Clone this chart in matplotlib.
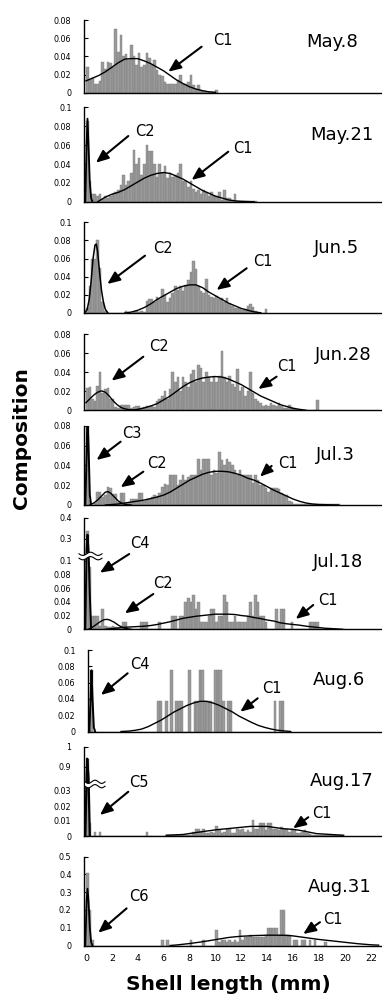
import numpy as np
import matplotlib
matplotlib.use("Agg")
import matplotlib.pyplot as plt
from matplotlib.patches import Polygon
from matplotlib.lines import Line2D

plt.rcParams["font.family"] = ["DejaVu Sans"]

FIG_W, FIG_H = 382, 1000
BIN = 0.2            # size-class width, mm
PX_PER_MM = 12.95

X_TICKS = [0, 2, 4, 6, 8, 10, 12, 14, 16, 18, 20, 22]

# ---------------- May.8 ----------------
may8_bars = [0.028, 0.014, 0.016, 0.010, 0.010, 0.013, 0.034, 0.026, 0.034, 0.033,
             0.028, 0.070, 0.045, 0.064, 0.040, 0.043, 0.036, 0.052, 0.040, 0.030,
             0.044, 0.028, 0.030, 0.044, 0.038, 0.030, 0.036, 0.025, 0.020, 0.018,
             0.012, 0.010, 0.010, 0.010, 0.010, 0.014, 0.019, 0.010, 0.010, 0.012,
             0.019, 0.008, 0.004, 0.008, 0.003, 0.002, 0.001, 0.001, 0.001, 0.001,
             0.003]
may8_c1_x = [0, 0.5, 1, 1.5, 2, 2.5, 3, 3.5, 4, 4.5, 5, 5.5, 6, 6.5, 7, 7.5, 8, 8.5, 9, 9.5, 10]
may8_c1_y = [0.013, 0.016, 0.019, 0.023, 0.028, 0.033, 0.037, 0.0375, 0.0375, 0.035, 0.032,
             0.028, 0.024, 0.019, 0.014, 0.010, 0.0065, 0.004, 0.0022, 0.001, 0.0004]

# ---------------- May.21 ----------------
may21_bars = [0.085, 0.022, 0.008, 0.008, 0.006, 0.008, 0.003, 0.006, 0.004, 0.006,
              0.008, 0.010, 0.012, 0.018, 0.028, 0.018, 0.022, 0.030, 0.055, 0.040,
              0.046, 0.028, 0.040, 0.060, 0.054, 0.054, 0.040, 0.026, 0.040, 0.030,
              0.038, 0.025, 0.030, 0.026, 0.028, 0.030, 0.040, 0.022, 0.022, 0.016,
              0.022, 0.014, 0.010, 0.012, 0.008, 0.012, 0.010, 0.006, 0.010, 0.006,
              0.006, 0.010, 0.002, 0.012, 0.004, 0.004, 0.002, 0.008, 0.001, 0.001,
              0.001, 0.001, 0.001, 0.001, 0.001, 0.001]
may21_c2_x = [-0.05, 0.05, 0.12, 0.2, 0.3, 0.4, 0.5]
may21_c2_y = [0.0, 0.060, 0.088, 0.060, 0.020, 0.004, 0.0]
may21_c1_x = [0.9, 1.5, 2, 2.5, 3, 3.5, 4, 4.5, 5, 5.5, 6, 6.5, 7, 7.5, 8, 8.5, 9, 9.5,
              10, 10.5, 11, 11.5, 12, 13]
may21_c1_y = [0.0, 0.005, 0.008, 0.010, 0.013, 0.017, 0.021, 0.025, 0.028, 0.030, 0.031,
              0.030, 0.027, 0.024, 0.020, 0.016, 0.012, 0.009, 0.006, 0.004, 0.002,
              0.001, 0.0005, 0.0]

# ---------------- Jun.5 ----------------
jun5_bars = [0.005, 0.030, 0.060, 0.060, 0.080, 0.050, 0.012, 0.002, 0, 0,
             0, 0, 0, 0, 0, 0.002, 0.001, 0.0, 0.001, 0.002,
             0.001, 0.002, 0.001, 0.013, 0.015, 0.015, 0.012, 0.018, 0.015, 0.026,
             0.020, 0.012, 0.016, 0.022, 0.030, 0.025, 0.030, 0.024, 0.031, 0.036,
             0.045, 0.057, 0.048, 0.030, 0.024, 0.022, 0.038, 0.020, 0.018, 0.016,
             0.019, 0.015, 0.016, 0.012, 0.017, 0.010, 0.008, 0.006, 0.005, 0.004,
             0.003, 0.004, 0.008, 0.010, 0.007, 0.002, 0, 0, 0, 0.004]
jun5_c2_x = [-0.1, 0.1, 0.25, 0.4, 0.55, 0.7, 0.8, 0.9, 1.05, 1.2, 1.35, 1.5, 1.7]
jun5_c2_y = [0.0, 0.004, 0.015, 0.035, 0.060, 0.075, 0.076, 0.068, 0.045, 0.025, 0.012, 0.004, 0.0]
jun5_c1_x = [3.0, 3.5, 4, 4.5, 5, 5.5, 6, 6.5, 7, 7.5, 8, 8.5, 9, 9.5, 10, 10.5, 11, 11.5,
             12, 12.5, 13, 13.5]
jun5_c1_y = [0.0, 0.001, 0.003, 0.006, 0.010, 0.015, 0.019, 0.023, 0.027, 0.0295, 0.031,
             0.031, 0.028, 0.023, 0.019, 0.015, 0.011, 0.008, 0.005, 0.003, 0.0012, 0.0003]

# ---------------- Jun.28 ----------------
jun28_bars = [0.024, 0.025, 0.012, 0.010, 0.026, 0.040, 0.018, 0.022, 0.024, 0.012,
              0.012, 0.003, 0.002, 0.006, 0.006, 0.006, 0.006, 0.002, 0.003, 0.005,
              0.005, 0.002, 0.003, 0.005, 0.005, 0.005, 0.003, 0.010, 0.012, 0.015,
              0.020, 0.012, 0.022, 0.040, 0.030, 0.035, 0.020, 0.035, 0.030, 0.025,
              0.038, 0.042, 0.030, 0.048, 0.045, 0.030, 0.040, 0.035, 0.030, 0.036,
              0.030, 0.036, 0.062, 0.035, 0.030, 0.036, 0.028, 0.025, 0.043, 0.020,
              0.025, 0.015, 0.020, 0.040, 0.018, 0.012, 0.010, 0.008, 0.005, 0.006,
              0.004, 0.008, 0.006, 0.005, 0.008, 0.005, 0.002, 0.002, 0.006, 0.003,
              0.002, 0.001, 0, 0, 0, 0, 0, 0, 0, 0.011]
jun28_c2_x = [0, 0.3, 0.6, 0.9, 1.2, 1.5, 1.8, 2.1, 2.4, 2.7, 3.0, 3.5, 4.0]
jun28_c2_y = [0.008, 0.012, 0.016, 0.019, 0.0205, 0.019, 0.015, 0.010, 0.006, 0.003,
              0.0015, 0.0003, 0.0]
jun28_c1_x = [3.5, 4, 4.5, 5, 5.5, 6, 6.5, 7, 7.5, 8, 8.5, 9, 9.5, 10, 10.5, 11, 11.5,
              12, 12.5, 13, 13.5, 14, 14.5, 15, 15.5, 16, 16.5, 17]
jun28_c1_y = [0.0, 0.001, 0.0025, 0.0045, 0.007, 0.011, 0.015, 0.020, 0.025, 0.029, 0.032,
              0.034, 0.035, 0.0355, 0.035, 0.033, 0.030, 0.027, 0.023, 0.019, 0.015, 0.012,
              0.009, 0.006, 0.004, 0.002, 0.001, 0.0]

# ---------------- Jul.3 ----------------
jul3_bars = [0.090, 0.004, 0.0, 0.002, 0.013, 0.013, 0.008, 0.010, 0.018, 0.017,
             0.011, 0.011, 0.003, 0.012, 0.012, 0.002, 0.002, 0.006, 0.006, 0.006,
             0.012, 0.012, 0.004, 0.006, 0.006, 0.008, 0.010, 0.009, 0.012, 0.018,
             0.021, 0.020, 0.030, 0.030, 0.030, 0.020, 0.025, 0.030, 0.025, 0.028,
             0.030, 0.030, 0.030, 0.046, 0.035, 0.046, 0.046, 0.046, 0.030, 0.035,
             0.032, 0.053, 0.045, 0.040, 0.046, 0.043, 0.040, 0.035, 0.030, 0.035,
             0.030, 0.030, 0.030, 0.030, 0.022, 0.030, 0.025, 0.020, 0.020, 0.017,
             0.013, 0.017, 0.017, 0.017, 0.016, 0.012, 0.010, 0.010, 0.004, 0.003,
             0.001, 0.001, 0.001, 0.001, 0.001, 0.001, 0.001, 0.001, 0.001, 0.001,
             0.001, 0.001, 0.001, 0.001, 0.001, 0.001, 0.001, 0.001]
jul3_c3_x = [-0.05, 0.05, 0.12, 0.2, 0.3, 0.4]
jul3_c3_y = [0.0, 0.050, 0.090, 0.060, 0.010, 0.0]
jul3_c2_x = [0.3, 0.6, 0.9, 1.2, 1.5, 1.7, 1.9, 2.2, 2.5, 2.8, 3.1, 3.5]
jul3_c2_y = [0.0, 0.002, 0.005, 0.009, 0.013, 0.0135, 0.012, 0.008, 0.004, 0.0015, 0.0003, 0.0]
jul3_c1_x = [1.5, 2, 2.5, 3, 3.5, 4, 4.5, 5, 5.5, 6, 6.5, 7, 7.5, 8, 8.5, 9, 9.5, 10, 10.5,
             11, 11.5, 12, 12.5, 13, 13.5, 14, 14.5, 15, 15.5, 16, 16.5, 17, 17.5, 18, 19.5]
jul3_c1_y = [0.0, 0.0005, 0.001, 0.002, 0.003, 0.004, 0.005, 0.0065, 0.008, 0.010, 0.013,
             0.017, 0.021, 0.025, 0.028, 0.031, 0.033, 0.034, 0.034, 0.0335, 0.032, 0.030,
             0.027, 0.025, 0.022, 0.0185, 0.015, 0.012, 0.009, 0.006, 0.0037, 0.002, 0.001,
             0.0005, 0.0]

# ---------------- Jul.18 ----------------
jul18_bars = [0.335, 0.090, 0.020, 0.020, 0.020, 0.005, 0.030, 0.005, 0.004, 0.004,
              0.005, 0.003, 0.002, 0.0, 0.010, 0.010, 0.001, 0.001, 0.001, 0.001,
              0.001, 0.010, 0.010, 0.010, 0.001, 0.001, 0.001, 0.001, 0.010, 0.001,
              0.001, 0.001, 0.0, 0.020, 0.020, 0.001, 0.020, 0.020, 0.040, 0.045,
              0.040, 0.050, 0.030, 0.040, 0.010, 0.010, 0.010, 0.020, 0.030, 0.030,
              0.010, 0.020, 0.020, 0.050, 0.040, 0.010, 0.010, 0.020, 0.010, 0.010,
              0.010, 0.010, 0.020, 0.040, 0.020, 0.050, 0.040, 0.020, 0.020, 0.010,
              0.0, 0.0, 0.001, 0.030, 0.010, 0.030, 0.030, 0.0, 0.0, 0.010,
              0.001, 0.001, 0.001, 0.001, 0.001, 0.001, 0.010, 0.010, 0.010, 0.010,
              0.001, 0.001, 0.001, 0.001, 0.001, 0.001, 0.001, 0.001, 0.001, 0.001]
jul18_c4_x = [-0.05, 0.05, 0.12, 0.2, 0.3, 0.4]
jul18_c4_y = [0.0, 0.20, 0.32, 0.20, 0.05, 0.0]
jul18_c2_x = [0.2, 0.5, 0.8, 1.1, 1.4, 1.65, 1.9, 2.2, 2.5, 2.8, 3.1, 3.5]
jul18_c2_y = [0.0, 0.003, 0.007, 0.011, 0.014, 0.0145, 0.013, 0.010, 0.006, 0.003, 0.001, 0.0]
jul18_c1_x = [1.5, 2, 2.5, 3, 3.5, 4, 4.5, 5, 5.5, 6, 6.5, 7, 7.5, 8, 8.5, 9, 9.5, 10, 10.5,
              11, 11.5, 12, 12.5, 13, 13.5, 14, 14.5, 15, 15.5, 16, 16.5, 17, 17.5, 18,
              18.5, 19, 19.8]
jul18_c1_y = [0.0, 0.001, 0.002, 0.003, 0.0035, 0.004, 0.0045, 0.0055, 0.007, 0.009, 0.011,
              0.0135, 0.016, 0.0175, 0.019, 0.020, 0.021, 0.022, 0.022, 0.022, 0.0215,
              0.020, 0.019, 0.017, 0.0155, 0.0135, 0.012, 0.0095, 0.008, 0.007, 0.006,
              0.0045, 0.0035, 0.0025, 0.0015, 0.001, 0.0]

# ---------------- Aug.6 ----------------
aug6_bars = [0.075, 0, 0, 0, 0, 0, 0, 0, 0, 0,
             0, 0, 0, 0, 0, 0, 0, 0, 0, 0,
             0, 0, 0, 0, 0, 0, 0.0375, 0.0375, 0, 0.0375,
             0, 0.075, 0, 0.0375, 0.0375, 0.0375, 0, 0, 0.075, 0,
             0.0375, 0.0375, 0.075, 0.075, 0.0375, 0.0375, 0.0375, 0, 0.075, 0.075,
             0.075, 0.0375, 0, 0.0375, 0.0375, 0, 0, 0, 0, 0,
             0, 0, 0, 0, 0, 0, 0, 0, 0, 0,
             0, 0.0375, 0, 0.0375, 0.0375]
aug6_c4_x = [-0.05, 0.05, 0.12, 0.2, 0.3, 0.4]
aug6_c4_y = [0.0, 0.040, 0.075, 0.040, 0.005, 0.0]
aug6_c1_x = [2.4, 3, 3.5, 4, 4.5, 5, 5.5, 6, 6.5, 7, 7.5, 8, 8.5, 9, 9.5, 10, 10.5, 11,
             11.5, 12, 12.5, 13, 13.5, 14, 14.5, 15, 15.5]
aug6_c1_y = [0.0, 0.0005, 0.0015, 0.003, 0.006, 0.010, 0.014, 0.019, 0.024, 0.028, 0.032,
             0.035, 0.037, 0.037, 0.035, 0.032, 0.028, 0.024, 0.019, 0.015, 0.011, 0.0075,
             0.005, 0.003, 0.0015, 0.0007, 0.0]

# ---------------- Aug.17 ----------------
aug17_bars = [0.94, 0.009, 0, 0.0025, 0, 0.0025, 0, 0, 0, 0,
              0, 0, 0, 0, 0, 0, 0, 0, 0, 0,
              0, 0, 0, 0.0025, 0, 0, 0, 0, 0, 0,
              0, 0.0005, 0.0005, 0.0005, 0.0005, 0.0005, 0.0005, 0.0005, 0.0005, 0.0005,
              0.0005, 0.0025, 0.0045, 0.0045, 0.003, 0.0045, 0.002, 0.002, 0.003, 0.002,
              0.0067, 0.004, 0.002, 0.003, 0.0045, 0.0045, 0.002, 0.002, 0.005, 0.004,
              0.0045, 0.003, 0.004, 0.0025, 0.011, 0.005, 0.0045, 0.009, 0.0087, 0.004,
              0.0087, 0.0087, 0.005, 0.0045, 0.004, 0.006, 0.0045, 0.005, 0.003, 0.0045,
              0.004, 0.002, 0.002, 0.0025, 0.004, 0.002, 0.0015, 0.001, 0.001, 0.001,
              0.001, 0.001, 0.001, 0.001, 0.001, 0.001, 0.001, 0.001, 0.001]
aug17_c5_x = [-0.05, 0.05, 0.1, 0.2, 0.3]
aug17_c5_y = [0.0, 0.50, 0.94, 0.50, 0.0]
aug17_c1_x = [6.2, 7.5, 8.8, 10.1, 11.4, 12.7, 14.0, 15.2, 16.0, 16.5, 17.8, 19.1, 19.9]
aug17_c1_y = [0.0005, 0.001, 0.0027, 0.0042, 0.0053, 0.0064, 0.0064, 0.0049, 0.0044,
              0.0038, 0.0016, 0.0009, 0.0005]

# ---------------- Aug.31 ----------------
aug31_bars = [0.41, 0.20, 0.03, 0, 0, 0, 0, 0, 0, 0,
              0, 0, 0, 0, 0, 0, 0, 0, 0, 0,
              0, 0, 0, 0, 0, 0, 0, 0, 0, 0.03,
              0, 0.03, 0, 0, 0, 0, 0, 0, 0, 0,
              0.03, 0, 0, 0, 0, 0.03, 0, 0, 0, 0,
              0.09, 0.02, 0.03, 0.03, 0.02, 0.03, 0.02, 0.03, 0.02, 0.09,
              0.03, 0.05, 0.05, 0.06, 0.05, 0.05, 0.05, 0.05, 0.05, 0.06,
              0.10, 0.10, 0.10, 0.10, 0.06, 0.20, 0.20, 0.06, 0.06, 0,
              0.03, 0.03, 0, 0.03, 0.03, 0, 0.03, 0, 0.03, 0,
              0, 0, 0.02]
aug31_c6_x = [-0.05, 0.05, 0.12, 0.2, 0.3, 0.4, 0.5]
aug31_c6_y = [0.0, 0.25, 0.32, 0.25, 0.10, 0.02, 0.0]
aug31_c1_x = [6.5, 7, 7.5, 8, 8.5, 9, 9.5, 10, 10.5, 11, 11.5, 12, 12.5, 13, 13.5, 14,
              14.5, 15, 15.5, 16, 16.5, 17, 17.5, 18, 18.5, 19, 19.5, 20, 20.5, 21, 21.5,
              22, 22.6]
aug31_c1_y = [0.0, 0.003, 0.007, 0.011, 0.016, 0.021, 0.027, 0.033, 0.039, 0.045, 0.049,
              0.052, 0.054, 0.056, 0.057, 0.058, 0.058, 0.058, 0.057, 0.054, 0.049, 0.044,
              0.039, 0.034, 0.030, 0.026, 0.022, 0.018, 0.014, 0.010, 0.007, 0.004, 0.002]

# ---------------- layout ----------------
panels = [
    dict(title="May.8", bars=may8_bars, curves=[(may8_c1_x, may8_c1_y, 1.0)],
         yticks=[0, 0.02, 0.04, 0.06, 0.08], top=20.0, bot=92.7,
         tpos=(19.0, 0.056),
         arrows=[("C1", (6.36, 0.0231), (8.93, 0.0506), (10.6, 0.0572))]),
    dict(title="May.21", bars=may21_bars,
         curves=[(may21_c2_x, may21_c2_y, 1.3), (may21_c1_x, may21_c1_y, 1.0)],
         yticks=[0, 0.02, 0.04, 0.06, 0.08, 0.1], top=107.3, bot=201.8,
         tpos=(19.74, 0.0707),
         arrows=[("C2", (0.77, 0.0414), (3.27, 0.0696), (4.56, 0.0749)),
                 ("C1", (8.16, 0.0231), (10.99, 0.053), (12.1, 0.0566))]),
    dict(title="Jun.5", bars=jun5_bars,
         curves=[(jun5_c2_x, jun5_c2_y, 1.1), (jun5_c1_x, jun5_c1_y, 1.0)],
         yticks=[0, 0.02, 0.04, 0.06, 0.08, 0.1], top=222.3, bot=313.0,
         tpos=(19.36, 0.0713),
         arrows=[("C2", (1.65, 0.032), (4.56, 0.0632), (5.92, 0.0713)),
                 ("C1", (10.09, 0.0254), (12.41, 0.0493), (13.69, 0.0573))]),
    dict(title="Jun.28", bars=jun28_bars,
         curves=[(jun28_c2_x, jun28_c2_y, 1.0), (jun28_c1_x, jun28_c1_y, 1.0)],
         yticks=[0, 0.02, 0.04, 0.06, 0.08], top=334.3, bot=410.3,
         tpos=(19.87, 0.0582),
         arrows=[("C2", (1.98, 0.0312), (4.43, 0.0564), (5.66, 0.0669)),
                 ("C1", (13.31, 0.0224), (14.72, 0.0354), (15.5, 0.0459))]),
    dict(title="Jul.3", bars=jul3_bars,
         curves=[(jul3_c3_x, jul3_c3_y, 1.4), (jul3_c2_x, jul3_c2_y, 1.0),
                 (jul3_c1_x, jul3_c1_y, 1.0)],
         yticks=[0, 0.02, 0.04, 0.06, 0.08], top=425.7, bot=505.0,
         tpos=(19.23, 0.0505),
         arrows=[("C3", (0.82, 0.0454), (2.68, 0.0639), (3.53, 0.0723)),
                 ("C2", (2.68, 0.0179), (4.43, 0.0336), (5.51, 0.0421)),
                 ("C1", (13.44, 0.0286), (14.34, 0.0394), (15.6, 0.0421))]),
    dict(title="Jul.18", bars=jul18_bars,
         curves=[(jul18_c4_x, jul18_c4_y, 1.4), (jul18_c2_x, jul18_c2_y, 1.0),
                 (jul18_c1_x, jul18_c1_y, 1.0)],
         yticks=[0, 0.02, 0.04, 0.06, 0.08, 0.1, 0.3, 0.4], top=517.7, bot=629.3,
         brk=([0, 0.1, 0.3, 0.4], [0, 68.8, 90.4, 111.6]), brk_px=(556.0, 79, 102),
         tpos=(19.48, 0.098),
         arrows=[("C4", (1.08, 0.0823), (3.34, 0.160), (4.17, 0.253)),
                 ("C2", (3.01, 0.0233), (5.2, 0.0513), (5.97, 0.0669)),
                 ("C1", (16.2, 0.015), (17.55, 0.0353), (18.71, 0.0416))]),
    dict(title="Aug.6", bars=aug6_bars,
         curves=[(aug6_c4_x, aug6_c4_y, 1.4), (aug6_c1_x, aug6_c1_y, 1.0)],
         yticks=[0, 0.02, 0.04, 0.06, 0.08, 0.1], top=650.0, bot=731.5, shift=4,
         tpos=(19.25, 0.0632),
         arrows=[("C4", (0.85, 0.0448), (2.91, 0.0714), (3.89, 0.0816)),
                 ("C1", (11.61, 0.0243), (12.95, 0.0407), (14.03, 0.053))]),
    dict(title="Aug.17", bars=aug17_bars,
         curves=[(aug17_c5_x, aug17_c5_y, 1.6), (aug17_c1_x, aug17_c1_y, 1.0)],
         yticks=[0, 0.01, 0.02, 0.03, 0.9, 1], top=746.7, bot=836.0,
         brk=([0, 0.03, 0.9, 1.0], [0, 45.0, 69.3, 89.3]), brk_px=(784.0, 85, 105),
         tpos=(19.74, 0.40),
         arrows=[("C5", (1.08, 0.014), (3.27, 0.0295), (4.12, 0.327)),
                 ("C1", (16.0, 0.0051), (17.17, 0.0125), (18.2, 0.0151))]),
    dict(title="Aug.31", bars=aug31_bars,
         curves=[(aug31_c6_x, aug31_c6_y, 1.3), (aug31_c1_x, aug31_c1_y, 1.0)],
         yticks=[0, 0.1, 0.2, 0.3, 0.4, 0.5], top=856.7, bot=945.5,
         tpos=(19.61, 0.331),
         arrows=[("C6", (0.95, 0.072), (3.14, 0.209), (4.12, 0.275)),
                 ("C1", (16.78, 0.0648), (18.07, 0.131), (19.1, 0.1475))]),
]

BAR_FACE = "#9a9a9a"
BAR_EDGE = "#7c7c7c"


def fx(px):
    return px / FIG_W


def fy(py):
    return 1.0 - py / FIG_H


def draw_break(fig, yc, x0, x1):
    xs = np.linspace(x0, x1, 60)
    wave = 1.6 * np.sin((xs - x0) / (x1 - x0) * 2 * np.pi * 1.5)
    upper = yc - 2.2 + wave
    lower = yc + 2.2 + wave
    poly = np.column_stack([np.r_[xs, xs[::-1]], np.r_[upper, lower[::-1]]])
    fig.add_artist(Polygon(np.column_stack([fx(poly[:, 0]), fy(poly[:, 1])]),
                           closed=True, facecolor="white", edgecolor="none",
                           transform=fig.transFigure, zorder=20))
    for yy in (upper, lower):
        fig.add_artist(Line2D(fx(xs), fy(yy), color="black", lw=0.8,
                              transform=fig.transFigure, zorder=21))


fig = plt.figure(figsize=(FIG_W / 100, FIG_H / 100), dpi=100)

arrow_props = dict(arrowstyle="-|>,head_length=0.75,head_width=0.32", color="black",
                   lw=1.5, mutation_scale=10, shrinkA=0, shrinkB=0)

for i, p in enumerate(panels):
    shift = p.get("shift", 0)
    left_px = 84 + shift
    ax = fig.add_axes([fx(left_px), fy(p["bot"]), fx(FIG_W - left_px),
                       (p["bot"] - p["top"]) / FIG_H])
    x0 = -0.15
    ax.set_xlim(x0, x0 + (FIG_W - left_px) / PX_PER_MM)

    if "brk" in p:
        vals, hts = p["brk"]
        ax.set_yscale("function",
                      functions=(lambda v, a=vals, b=hts: np.interp(v, a, b),
                                 lambda h, a=vals, b=hts: np.interp(h, b, a)))
    ax.set_ylim(0, p["yticks"][-1])

    bars = p["bars"]
    ax.bar(np.arange(len(bars)) * BIN, bars, width=BIN, align="edge",
           color=BAR_FACE, edgecolor=BAR_EDGE, linewidth=0.3, zorder=2)
    for cx, cy, lw in p["curves"]:
        ax.plot(cx, cy, color="black", lw=lw, zorder=3, solid_joinstyle="round")

    for lab, head, tail, tpos in p["arrows"]:
        ax.annotate("", xy=head, xytext=tail, arrowprops=arrow_props, zorder=5,
                    annotation_clip=False)
        ax.text(tpos[0], tpos[1], lab, fontsize=10.5, ha="center", va="center", zorder=5)

    ax.text(p["tpos"][0], p["tpos"][1], p["title"], fontsize=13, ha="center",
            va="center", zorder=5)

    for s in ("top", "right"):
        ax.spines[s].set_visible(False)
    for s in ("left", "bottom"):
        ax.spines[s].set_linewidth(1.0)
        ax.spines[s].set_color("black")
        ax.spines[s].set_zorder(6)

    ax.set_yticks(p["yticks"])
    ax.set_yticklabels([f"{v:g}" for v in p["yticks"]])
    ax.tick_params(axis="y", direction="in", length=3, width=0.8, labelsize=5.8, pad=9)

    if i == len(panels) - 1:
        ax.set_xticks(X_TICKS)
        ax.set_xticklabels([str(v) for v in X_TICKS])
        ax.tick_params(axis="x", length=0, labelsize=6.8, pad=6)
    else:
        ax.set_xticks([])
    ax.patch.set_alpha(0)

    if "brk_px" in p:
        yc, bx0, bx1 = p["brk_px"]
        draw_break(fig, yc, bx0, bx1)

fig.text(fx(228), fy(985), "Shell length (mm)", fontsize=14.5, fontweight="bold",
         ha="center", va="center")
fig.text(fx(22), fy(438), "Composition", fontsize=14.5, fontweight="bold",
         ha="center", va="center", rotation=90)

fig.savefig("out.png", dpi=100, facecolor="white")
